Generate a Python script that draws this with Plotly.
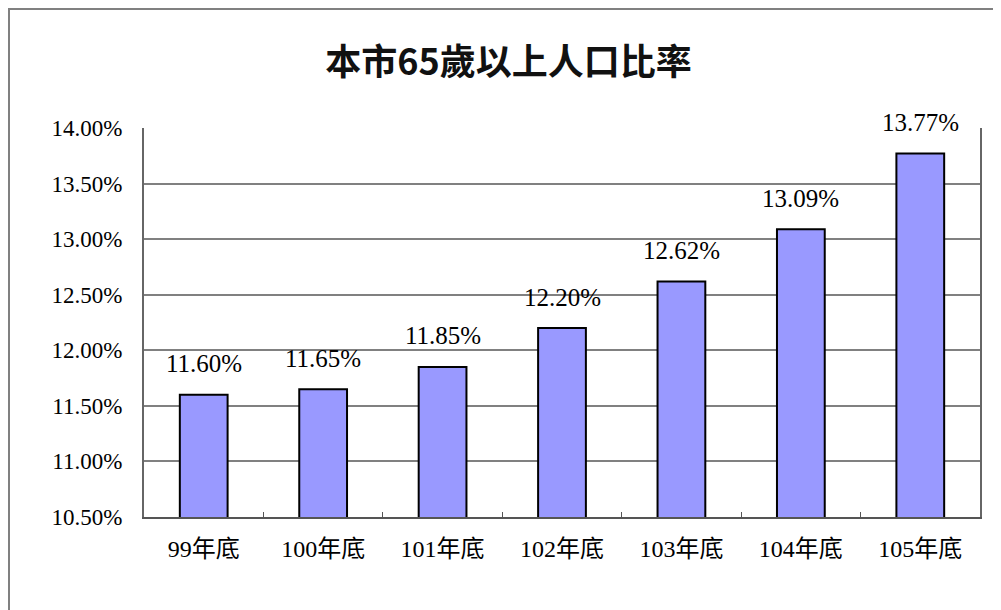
import plotly.graph_objects as go

categories = ["99年底", "100年底", "101年底", "102年底", "103年底", "104年底", "105年底"]
values = [0.1160, 0.1165, 0.1185, 0.1220, 0.1262, 0.1309, 0.1377]
value_labels = ["11.60%", "11.65%", "11.85%", "12.20%", "12.62%", "13.09%", "13.77%"]
title_text = "本市65歲以上人口比率"

serif = "Times New Roman, Liberation Serif, Noto Sans CJK TC, serif"

# page body has an 8px offset; margins compensate so the plot area lands where the reference has it
L, T, R, B = 136, 120, 29, 101
W, H = 1001, 610
PW, PH = W - L - R, H - T - B

fig = go.Figure()
fig.add_trace(go.Bar(
    x=categories, y=values, base=0,
    marker=dict(color="#9999FF", line=dict(color="#000000", width=2)),
    width=0.4,
    hoverinfo="skip",
))

for c, v, t in zip(categories, values, value_labels):
    fig.add_annotation(x=c, y=v, text=t, showarrow=False, yshift=31,
                       font=dict(family=serif, size=25, color="#000000"))

border_top = 1 + (T - 1) / PH
border_left = (1 - L) / PW
fig.update_layout(
    width=W, height=H,
    margin=dict(l=L, r=R, t=T, b=B, autoexpand=False),
    paper_bgcolor="white", plot_bgcolor="white",
    showlegend=False,
    title=dict(text=title_text, x=0.5, xanchor="center", y=1 - 54 / H, yanchor="middle",
               font=dict(family="Noto Sans CJK TC", size=36, color="#111111", weight="bold")),
    xaxis=dict(showgrid=False, showline=True, linecolor="#555555", linewidth=2,
               ticks="inside", tickson="boundaries", ticklen=5, tickcolor="#555555",
               tickfont=dict(family=serif, size=24, color="#000000"),
               ticklabelstandoff=9),
    yaxis=dict(range=[0.105, 0.140], dtick=0.005, tick0=0.105, tickformat=".2%",
               showgrid=True, gridcolor="#808080", gridwidth=2,
               showline=True, linecolor="#666666", linewidth=2, mirror=True,
               ticks="", zeroline=False,
               tickfont=dict(family=serif, size=23, color="#000000"),
               ticklabelstandoff=15),
    shapes=[
        dict(type="line", xref="paper", yref="paper",
             x0=-L / PW, x1=(W - L) / PW, y0=border_top, y1=border_top,
             line=dict(color="#808080", width=2)),
        dict(type="line", xref="paper", yref="paper",
             x0=border_left, x1=border_left, y0=-B / PH, y1=border_top,
             line=dict(color="#808080", width=2)),
    ],
)

fig.write_html("out.html")
